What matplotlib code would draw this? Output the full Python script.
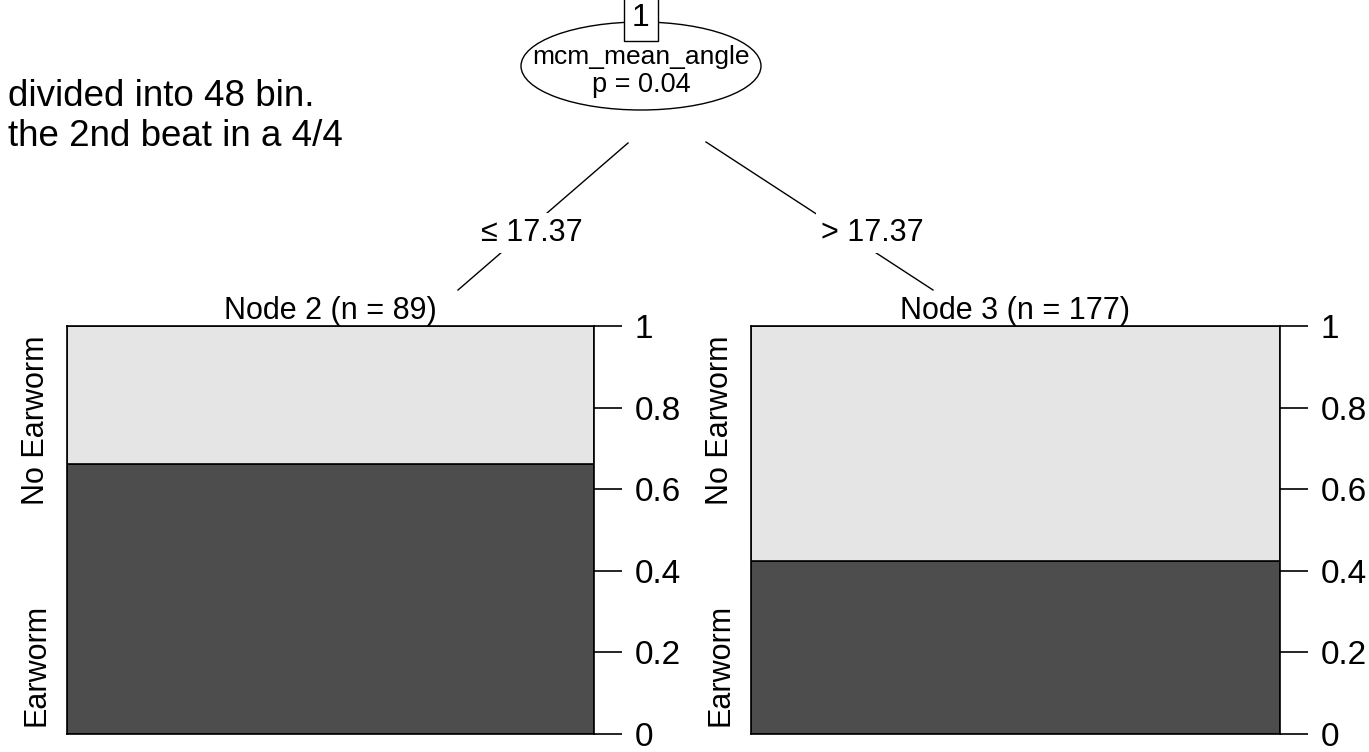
import matplotlib
matplotlib.use("Agg")
import matplotlib.pyplot as plt
from matplotlib.patches import Ellipse

plt.rcParams['font.family'] = ['Liberation Sans', 'DejaVu Sans']

# ---- data ----
node_titles = ["Node 2 (n = 89)", "Node 3 (n = 177)"]
earworm_frac = [59 / 89, 75 / 177]       # dark (Earworm) share
class_labels = ["Earworm", "No Earworm"]
tick_vals = [0, 0.2, 0.4, 0.6, 0.8, 1]
tick_labels = ["0", "0.2", "0.4", "0.6", "0.8", "1"]
split_var = "mcm_mean_angle"
split_p = "p = 0.04"
edge_labels = ["\u2264 17.37", "> 17.37"]
note_lines = ["divided into 48 bin.", "the 2nd beat in a 4/4"]

W, H = 1369, 752
fig = plt.figure(figsize=(W / 100, H / 100), dpi=100)
fig.patch.set_facecolor("white")

ov = fig.add_axes([0, 0, 1, 1])
ov.set_xlim(0, W)
ov.set_ylim(H, 0)
ov.axis("off")

# text at top-left
ov.text(8, 96, note_lines[0], fontsize=26.5, ha="left", va="center")
ov.text(8, 136, note_lines[1], fontsize=26.5, ha="left", va="center")

# inner node ellipse
cx, cy = 641, 66
ov.add_patch(Ellipse((cx, cy), 240, 88, fill=False, lw=1.0, ec="black"))
ov.text(cx, 57, split_var, fontsize=19, ha="center", va="center")
ov.text(cx, 85, split_p, fontsize=19.5, ha="center", va="center")
ov.text(cx, 18, "1", fontsize=23, ha="center", va="center",
        bbox=dict(boxstyle="square,pad=0.25", fc="white", ec="black", lw=1.0))

# edges
ov.plot([628, 458], [143, 290], color="black", lw=1.0)
ov.plot([706, 933], [142, 290], color="black", lw=1.0)
ov.text(532, 233, edge_labels[0], fontsize=22, ha="center", va="center",
        bbox=dict(boxstyle="square,pad=0.15", fc="white", ec="none"))
ov.text(872, 233, edge_labels[1], fontsize=22, ha="center", va="center",
        bbox=dict(boxstyle="square,pad=0.15", fc="white", ec="none"))

# bar panels
panels = [(67, 594), (751, 1280)]
top, bot = 326, 734
for i, (x0, x1) in enumerate(panels):
    ax = fig.add_axes([x0 / W, (H - bot) / H, (x1 - x0) / W, (bot - top) / H])
    ax.set_xlim(0, 1)
    ax.set_ylim(0, 1)
    frac = earworm_frac[i]
    ax.bar([0.5], [frac], width=1.0, bottom=0, color="#4D4D4D",
           edgecolor="black", lw=1.2)
    ax.bar([0.5], [1 - frac], width=1.0, bottom=frac, color="#E5E5E5",
           edgecolor="black", lw=1.2)
    ax.set_xticks([])
    ax.yaxis.tick_right()
    ax.set_yticks(tick_vals)
    ax.set_yticklabels(tick_labels, fontsize=24)
    ax.tick_params(axis="y", length=20, width=1.2, pad=9)
    for s in ax.spines.values():
        s.set_linewidth(1.2)
    ax.set_title(node_titles[i], fontsize=22, pad=-1)
    ax.text(-0.058, 0.17, class_labels[0], rotation=90, fontsize=22,
            ha="center", va="center", transform=ax.transAxes)
    ax.text(-0.058, 0.77, class_labels[1], rotation=90, fontsize=22,
            ha="center", va="center", transform=ax.transAxes)

fig.savefig("out.png", dpi=100, facecolor="white")
